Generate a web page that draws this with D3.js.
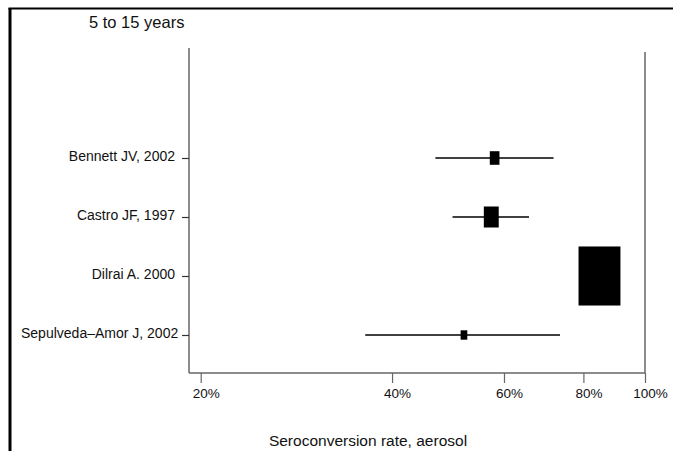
<!DOCTYPE html>
<html>
<head>
<meta charset="utf-8">
<script src="https://cdn.jsdelivr.net/npm/d3@7"></script>
<style>
  body { margin: 0; background: #fff; }
  svg { display: block; font-family: "Liberation Sans", Arial, sans-serif; }
</style>
</head>
<body>
<script>
var w = 673, h = 451;

// data
var studies = ["Bennett JV, 2002", "Castro JF, 1997", "Dilrai A. 2000", "Sepulveda\u2013Amor J, 2002"];
var rate  = [58.0, 57.3, 84.8, 51.9];
var lower = [46.8, 49.8, 80.0, 36.3];
var upper = [71.8, 65.7, 89.0, 73.5];
var weight = [4.4, 10.5, 83.0, 2.1];
var xTicks = [20, 40, 60, 80, 100];
var subgroup = "5 to 15 years";
var xTitle = "Seroconversion rate, aerosol";

var rows = studies.map(function(s, i){
    return {name: s, est: rate[i], lo: lower[i], hi: upper[i], wt: weight[i]};
});

var svg = d3.select("body").append("svg")
    .attr("width", w)
    .attr("height", h);

// outer frame (top + left only)
svg.append("line").attr("x1", 8.5).attr("x2", w).attr("y1", 8.5).attr("y2", 8.5)
    .attr("stroke", "#000").attr("stroke-width", 2);
svg.append("line").attr("x1", 10).attr("x2", 10).attr("y1", 8).attr("y2", h)
    .attr("stroke", "#000").attr("stroke-width", 3);

var x = d3.scaleLog().domain([20, 100]).range([200.7, 645]);
var y = d3.scalePoint().domain(studies).range([158, 335]);
var side = d3.scaleSqrt().domain([0, 100]).range([0, 64.8]);

var left = 189, right = 645, bottom = 373;
var axisCol = "#666";

// plot region lines
svg.append("line").attr("x1", left).attr("x2", left).attr("y1", 48).attr("y2", bottom)
    .attr("stroke", axisCol).attr("stroke-width", 1.5);
svg.append("line").attr("x1", right).attr("x2", right).attr("y1", 52).attr("y2", bottom)
    .attr("stroke", axisCol).attr("stroke-width", 1.5);

// x axis
var xAxis = d3.axisBottom(x).tickValues(xTicks)
    .tickFormat(function(d){ return d + "%"; })
    .tickSize(10).tickSizeOuter(0).tickPadding(5);
var gx = svg.append("g").attr("transform", "translate(0," + bottom + ")").call(xAxis);
gx.select(".domain").attr("d", "M" + left + ",0H" + right).attr("stroke", axisCol).attr("stroke-width", 1.5);
gx.selectAll(".tick line").attr("stroke", axisCol).attr("stroke-width", 1.2);
gx.selectAll(".tick text").attr("dx", 5).style("font-size", "13.5px").attr("fill", "#111")
    .style("font-family", "Liberation Sans, Arial, sans-serif");

// y axis (study labels)
var yAxis = d3.axisLeft(y).tickSize(7).tickSizeOuter(0).tickPadding(7);
var gy = svg.append("g").attr("transform", "translate(" + left + ",0)").call(yAxis);
gy.select(".domain").remove();
gy.selectAll(".tick line").attr("stroke", "#333").attr("stroke-width", 1.2);
gy.selectAll(".tick text").attr("dy", "0.2em").style("font-size", "14px").attr("fill", "#111")
    .style("font-family", "Liberation Sans, Arial, sans-serif");
// keep long labels inside the frame
gy.selectAll(".tick text").each(function(){
    var b = this.getBBox();
    var absLeft = left + b.x;
    if (absLeft < 21) {
        d3.select(this).attr("x", +d3.select(this).attr("x") + (21 - absLeft));
    }
});

// confidence intervals
svg.selectAll("line.ci")
    .data(rows)
    .enter()
    .append("line")
    .attr("class", "ci")
    .attr("x1", function(d){ return x(d.lo); })
    .attr("x2", function(d){ return x(d.hi); })
    .attr("y1", function(d){ return y(d.name); })
    .attr("y2", function(d){ return y(d.name); })
    .attr("stroke", "#000")
    .attr("stroke-width", 1.3);

// weighted boxes
svg.selectAll("rect.box")
    .data(rows)
    .enter()
    .append("rect")
    .attr("class", "box")
    .attr("x", function(d){ return x(d.est) - side(d.wt) * 0.71 / 2; })
    .attr("y", function(d){ return y(d.name) - side(d.wt) / 2; })
    .attr("width", function(d){ return side(d.wt) * 0.71; })
    .attr("height", function(d){ return side(d.wt); })
    .attr("fill", "#000");

// subgroup heading
svg.append("text")
    .attr("x", 89).attr("y", 28)
    .style("font-size", "16.5px")
    .attr("fill", "#111")
    .text(subgroup);

// x title
svg.append("text")
    .attr("x", 368).attr("y", 446)
    .attr("text-anchor", "middle")
    .style("font-size", "15.5px")
    .attr("fill", "#111")
    .text(xTitle);
</script>
</body>
</html>
